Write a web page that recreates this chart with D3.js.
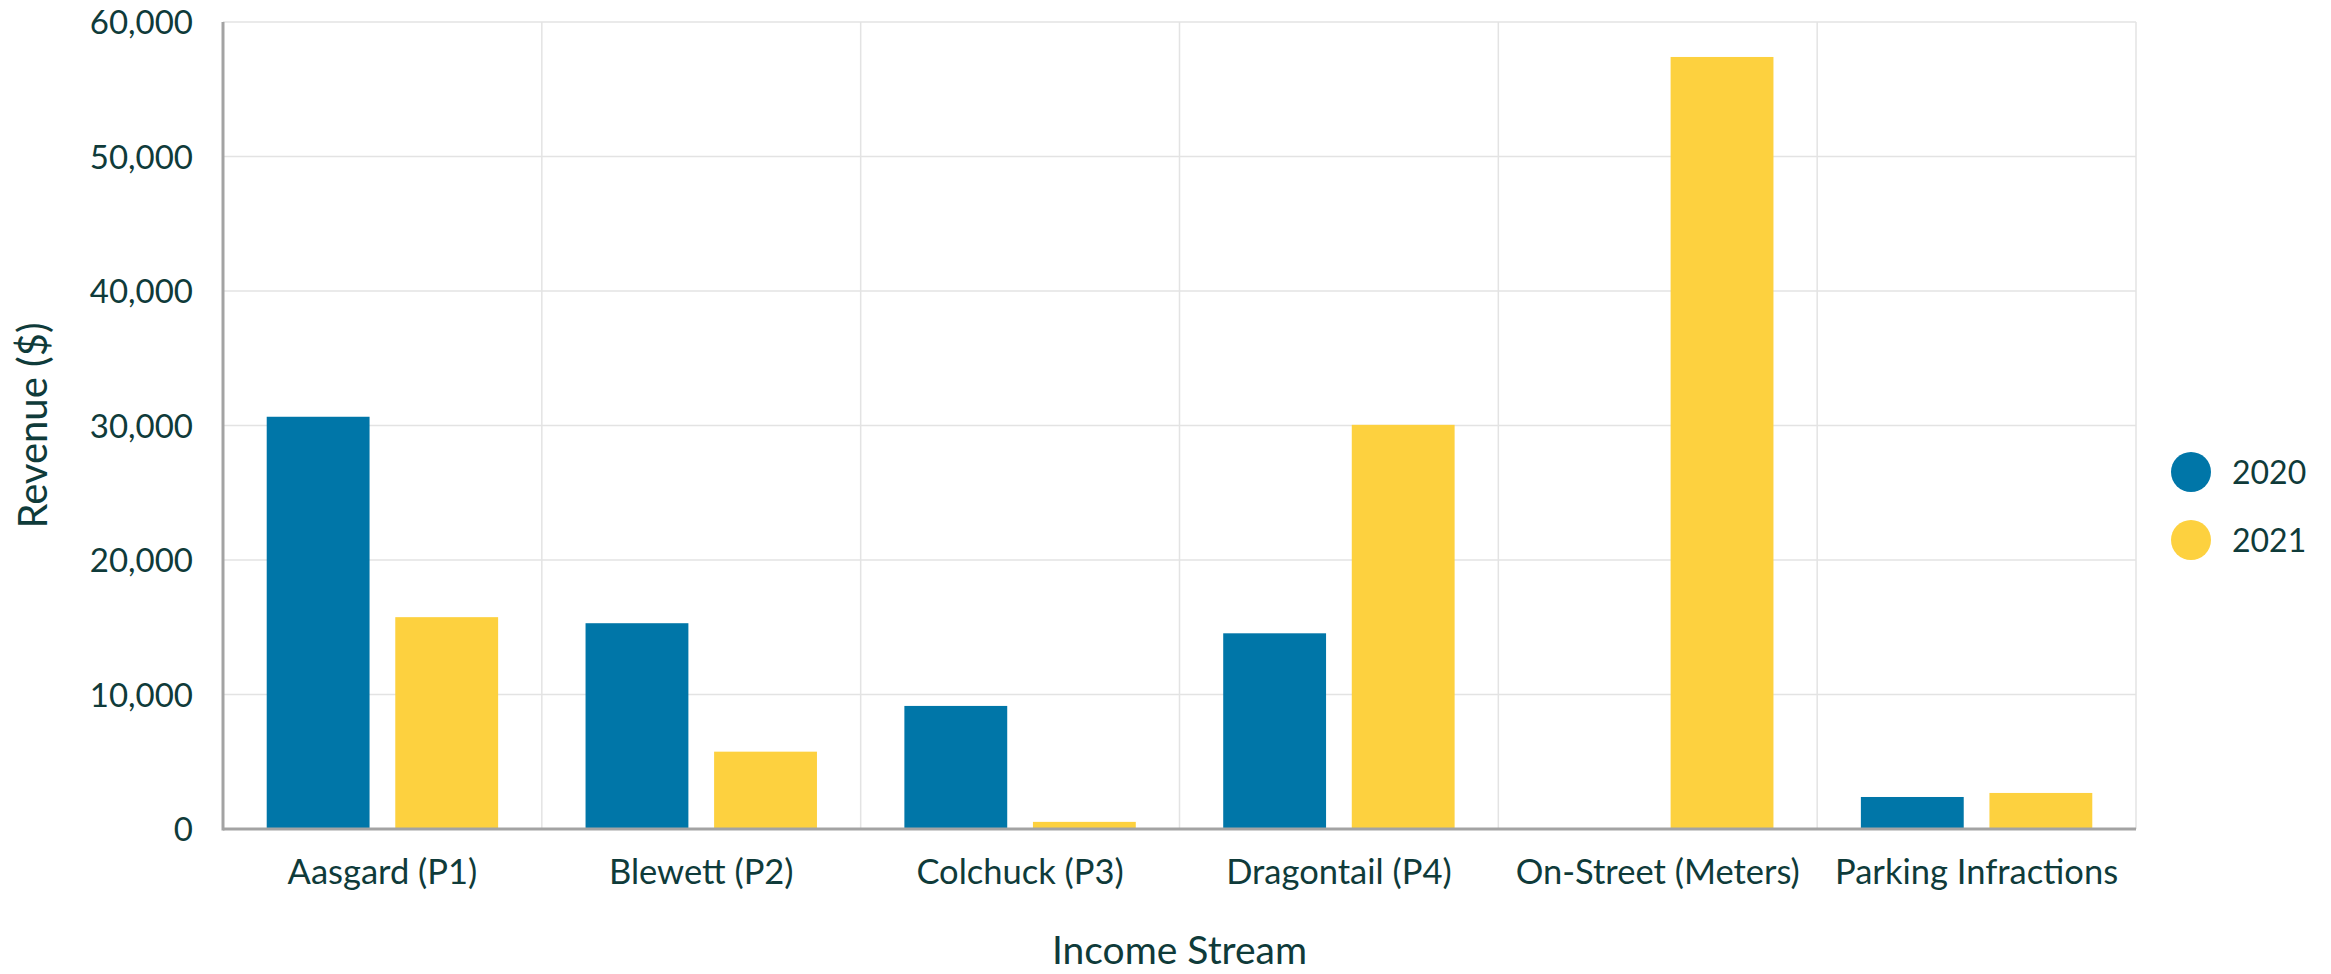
<!DOCTYPE html>
<html>
<head>
<meta charset="utf-8">
<script src="https://cdn.jsdelivr.net/npm/d3@7"></script>
<style>
  html, body { margin: 0; padding: 0; background: #fff; }
  text { font-family: Lato, "Open Sans", sans-serif; fill: #0f3b3a; }
</style>
</head>
<body>
<div id="chart"></div>
<script>
(function() {
  // data
  var categories = ['Aasgard (P1)', 'Blewett (P2)', 'Colchuck (P3)', 'Dragontail (P4)', 'On-Street (Meters)', 'Parking Infractions'];
  var years = ['2020', '2021'];
  var revenue2020 = [30650, 15300, 9150, 14550, 0, 2380];
  var revenue2021 = [15750, 5750, 530, 30050, 57400, 2680];
  var yTicks = [0, 10000, 20000, 30000, 40000, 50000, 60000];
  var colors = ['#0076a8', '#fdd13f'];

  var WIDTH = 2331, HEIGHT = 974;
  var margin = { top: 22, right: 195, bottom: 145, left: 223 };
  var w = WIDTH - margin.left - margin.right;
  var h = HEIGHT - margin.top - margin.bottom;

  var svg = d3.select('#chart').append('svg')
    .attr('width', WIDTH)
    .attr('height', HEIGHT);

  var g = svg.append('g')
    .attr('transform', 'translate(' + margin.left + ',' + margin.top + ')');

  var x0 = d3.scaleBand().domain(categories).range([0, w]).padding(0);
  var x1 = d3.scaleBand().domain(years).range([0, x0.bandwidth()])
    .paddingInner(0.2).paddingOuter(0.34);
  var y = d3.scaleLinear().domain([0, 60000]).range([h, 0]);
  var color = d3.scaleOrdinal().domain(years).range(colors);

  // horizontal grid
  g.append('g').selectAll('line')
    .data(yTicks.filter(function(d) { return d > 0; }))
    .enter().append('line')
    .attr('x1', 0).attr('x2', w)
    .attr('y1', function(d) { return y(d); })
    .attr('y2', function(d) { return y(d); })
    .attr('stroke', '#e3e3e3')
    .attr('stroke-width', 1.5);

  // vertical grid at category boundaries
  g.append('g').selectAll('line')
    .data(categories)
    .enter().append('line')
    .attr('x1', function(d) { return x0(d) + x0.bandwidth(); })
    .attr('x2', function(d) { return x0(d) + x0.bandwidth(); })
    .attr('y1', 0).attr('y2', h)
    .attr('stroke', '#e3e3e3')
    .attr('stroke-width', 1.5);

  var rows = categories.map(function(c, i) {
    return { cat: c, vals: [
      { year: years[0], v: revenue2020[i] },
      { year: years[1], v: revenue2021[i] }
    ] };
  });

  g.append('g').selectAll('g')
    .data(rows)
    .enter().append('g')
    .attr('transform', function(d) { return 'translate(' + x0(d.cat) + ',0)'; })
    .selectAll('rect')
    .data(function(d) { return d.vals; })
    .enter().append('rect')
    .attr('x', function(d) { return x1(d.year); })
    .attr('width', x1.bandwidth())
    .attr('y', function(d) { return y(d.v); })
    .attr('height', function(d) { return h - y(d.v); })
    .attr('fill', function(d) { return color(d.year); });

  // y axis
  var yAxis = g.append('g')
    .call(d3.axisLeft(y).tickValues(yTicks).tickSize(0).tickPadding(30)
      .tickFormat(d3.format(',')));
  yAxis.select('.domain').remove();
  yAxis.selectAll('text')
    .attr('font-size', 33)
    .attr('font-family', 'Lato, sans-serif')
    .attr('fill', '#0f3b3a')
    .attr('dy', '0.36em');

  // x axis
  var xAxis = g.append('g')
    .attr('transform', 'translate(0,' + h + ')')
    .call(d3.axisBottom(x0).tickSize(0).tickPadding(31));
  xAxis.select('.domain').remove();
  xAxis.selectAll('text')
    .attr('font-size', 34.5)
    .attr('font-family', 'Lato, sans-serif')
    .attr('fill', '#0f3b3a');

  // axis lines
  g.append('line')
    .attr('x1', 0).attr('x2', 0).attr('y1', 0).attr('y2', h + 1.5)
    .attr('stroke', '#a3a3a3').attr('stroke-width', 3);
  g.append('line')
    .attr('x1', 0).attr('x2', w).attr('y1', h).attr('y2', h)
    .attr('stroke', '#a3a3a3').attr('stroke-width', 3);

  // axis titles
  svg.append('text')
    .attr('transform', 'translate(33,' + (margin.top + h / 2) + ') rotate(-90)')
    .attr('text-anchor', 'middle')
    .attr('dy', '0.35em')
    .attr('font-size', 40)
    .text('Revenue ($)');

  svg.append('text')
    .attr('x', margin.left + w / 2)
    .attr('y', 964)
    .attr('text-anchor', 'middle')
    .attr('font-size', 39)
    .text('Income Stream');

  // legend
  var legend = svg.append('g').selectAll('g')
    .data(years)
    .enter().append('g')
    .attr('transform', function(d, i) { return 'translate(2191,' + (472 + i * 68) + ')'; });
  legend.append('circle')
    .attr('r', 20)
    .attr('fill', function(d) { return color(d); });
  legend.append('text')
    .attr('x', 41)
    .attr('dy', '0.36em')
    .attr('font-size', 32)
    .text(function(d) { return d; });
})();
</script>
</body>
</html>
